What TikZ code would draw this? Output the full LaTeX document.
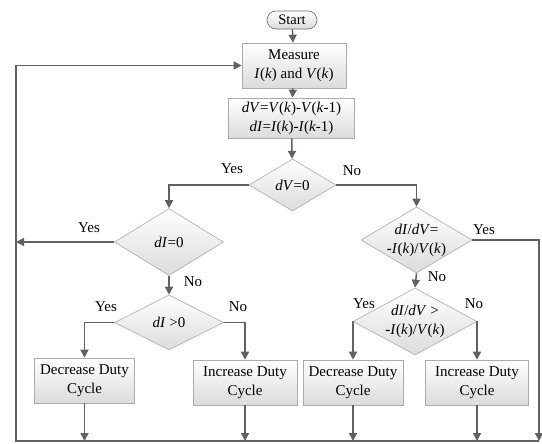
\documentclass[tikz,border=0pt]{standalone}
\usepackage{fontspec}
\setmainfont{Liberation Serif}
\usetikzlibrary{shapes.geometric,arrows.meta}
\newcommand\iv[1]{\textit{#1}}
\tikzset{
  flow/.style={draw=black!33, line width=0.6pt, top color=white, bottom color=black!14},
  box/.style={flow, rectangle, inner sep=0pt, align=center},
  dia/.style={flow, diamond, inner sep=0pt},
  startbox/.style={flow, draw=black!60, rectangle, rounded corners=9pt, inner sep=0pt,
    minimum width=50pt, minimum height=18pt, font=\fontsize{14.5}{18}\selectfont},
  dtext/.style={inner sep=0pt, align=center},
  arr/.style={draw=black!62, line width=1.5pt, -{Triangle[width=8pt,length=8pt]}},
  lab/.style={inner sep=0pt}
}
\begin{document}
\begin{tikzpicture}[x=1pt,y=-1pt, font=\fontsize{15}{19}\selectfont]
\useasboundingbox (0,0) rectangle (542,444);
% nodes
\node[startbox] (start) at (292,20) {Start};
\node[box, minimum width=104pt, minimum height=45pt] (meas) at (294,65.5)
  {Measure\\\iv{I}(\iv{k}) and \iv{V}(\iv{k})};
\node[box, minimum width=126pt, minimum height=40pt] (dvb) at (291.5,118)
  {\iv{dV}=\iv{V}(\iv{k})-\iv{V}(\iv{k}-1)\\\iv{dI}=\iv{I}(\iv{k})-\iv{I}(\iv{k}-1)};
\node[dia, minimum width=87pt, minimum height=52pt] (d1) at (292.5,185) {};
\node[dtext] (d1t) at (d1) {\iv{dV}=0};
\node[dia, minimum width=109pt, minimum height=67pt] (d2) at (169,242) {};
\node[dtext] (d2t) at (d2) {\iv{dI}=0};
\node[dia, minimum width=109pt, minimum height=55pt] (d3) at (169,322.5) {};
\node[dtext] (d3t) at (d3) {\iv{dI} >0};
\node[dia, minimum width=111pt, minimum height=66pt] (d4) at (416.5,240) {};
\node[dtext] (d4t) at (d4) {\iv{dI}/\iv{dV}=\\\textbf{-}\iv{I}(\iv{k})/\iv{V}(\iv{k})};
\node[dia, minimum width=124pt, minimum height=67pt] (d5) at (415,321.5) {};
\node[dtext] (d5t) at (d5) {\iv{dI}/\iv{dV} >\\\textbf{-}\iv{I}(\iv{k})/\iv{V}(\iv{k})};
\node[box, minimum width=100pt, minimum height=45pt] (dec1) at (84.5,380.5) {Decrease Duty\\Cycle};
\node[box, minimum width=104pt, minimum height=45pt] (inc1) at (245,382.5) {Increase Duty\\Cycle};
\node[box, minimum width=100pt, minimum height=45pt] (dec2) at (353,382.5) {Decrease Duty\\Cycle};
\node[box, minimum width=103pt, minimum height=45pt] (inc2) at (477,382.5) {Increase Duty\\Cycle};
\coordinate (BL) at (16,441);
\coordinate (BR) at (539,441);
% connectors
\draw[arr] (start) -- (meas);
\draw[arr] (meas) -- (dvb);
\draw[arr] (dvb) -- (d1);
\draw[arr] (d1.west) -| (d2.north);
\draw[arr] (d1.east) -| (d4.north);
\draw[arr] (d2.south) -- (d3.north);
\draw[arr] (d2.west) -- (d2.west -| BL);
\draw[arr] (d3.west) -| (dec1.north);
\draw[arr] (d3.east) -| (inc1.north);
\draw[arr] (d4.south) -- (d5.north);
\draw[arr] (d4.east) -| (BR);
\draw[arr] (d5.west) -| (dec2.north);
\draw[arr] (d5.east) -| (inc2.north);
\draw[arr] (dec1.south) -- (dec1.south |- BL);
\draw[arr] (inc1.south) -- (inc1.south |- BL);
\draw[arr] (dec2.south) -- (dec2.south |- BL);
\draw[arr] (inc2.south) -- (inc2.south |- BL);
\draw[arr] (BR) -- (BL) -- (BL |- meas.west) -- (meas.west);
% labels
\node[lab] (y1) at (232,169) {Yes};
\node[lab] (n1) at (352,171) {No};
\node[lab] (y2) at (89,228) {Yes};
\node[lab] (n2) at (193,282) {No};
\node[lab] (y3) at (106,307) {Yes};
\node[lab] (n3) at (238,307) {No};
\node[lab] (y4) at (484,230) {Yes};
\node[lab] (n4) at (437,277) {No};
\node[lab] (y5) at (364,304) {Yes};
\node[lab] (n5) at (474,304) {No};
\end{tikzpicture}
\end{document}
